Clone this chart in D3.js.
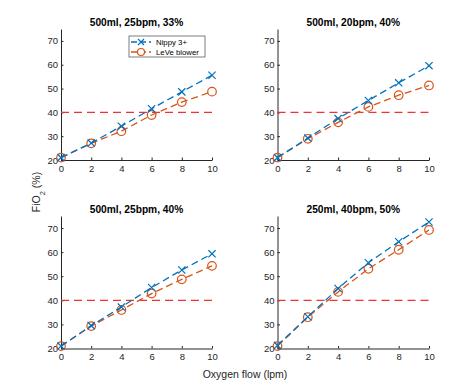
<!DOCTYPE html>
<html>
<head>
<meta charset="utf-8">
<script src="https://cdn.jsdelivr.net/npm/d3@7"></script>
<style>
  body { margin: 0; background: #fff; }
  svg { font-family: "Liberation Sans", Arial, sans-serif; }
  .axis path, .axis line { stroke: #262626; }
  .axis text { fill: #262626; font-size: 9.5px; }
</style>
</head>
<body>
<div class="chart"></div>
<script>
// data
const flows = [0, 2, 4, 6, 8, 10];
const titles = ["500ml, 25bpm, 33%", "500ml, 20bpm, 40%", "500ml, 25bpm, 40%", "250ml, 40bpm, 50%"];
const seriesNames = ["Nippy 3+", "LeVe blower"];
const nippy = [
  [21, 27.1, 34.2, 41.5, 48.6, 55.6],
  [21, 29.2, 37.4, 45, 52.4, 59.6],
  [21, 29.5, 37.2, 45.3, 52.6, 59.3],
  [21.3, 33.2, 44.9, 55.6, 64.3, 72.5]
];
const leve = [
  [21, 27, 32.1, 38.9, 44.3, 48.7],
  [21, 28.9, 35.8, 42.3, 47.2, 51.3],
  [21, 29.3, 36, 42.8, 48.7, 54.3],
  [21, 33, 43.5, 53.1, 61, 69.2]
];
const threshold = 40;
const yTicks = [20, 30, 40, 50, 60, 70];
const xTicks = [0, 2, 4, 6, 8, 10];

const W = 474, H = 392;
const blue = "#0072BD", orange = "#D95319", red = "#EE3333";

const svg = d3.select('.chart').append('svg')
  .attr('width', W).attr('height', H);

// panel positions
const panels = [
  { x0: 61, x1: 212, y0: 160, y1: 29 },
  { x0: 277.5, x1: 429, y0: 160, y1: 29 },
  { x0: 61, x1: 212, y0: 348.5, y1: 216 },
  { x0: 277.5, x1: 429, y0: 348.5, y1: 216 }
];

panels.forEach((p, k) => {
  const xScale = d3.scaleLinear().domain([0, 10]).range([p.x0, p.x1]);
  const yScale = d3.scaleLinear().domain([20, 75]).range([p.y0, p.y1]);
  const g = svg.append('g');

  // axes (MATLAB style, ticks inward)
  g.append('g')
    .attr('class', 'x axis')
    .attr('transform', `translate(0, ${p.y0})`)
    .call(d3.axisBottom(xScale).tickValues(xTicks).tickSizeInner(-2.5).tickSizeOuter(0).tickPadding(5));
  g.append('g')
    .attr('class', 'y axis')
    .attr('transform', `translate(${p.x0}, 0)`)
    .call(d3.axisLeft(yScale).tickValues(yTicks).tickSizeInner(-2.5).tickSizeOuter(0).tickPadding(3));

  // threshold line
  g.append('line')
    .attr('x1', xScale(0)).attr('x2', xScale(10))
    .attr('y1', yScale(threshold)).attr('y2', yScale(threshold))
    .attr('stroke', red).attr('stroke-width', 1.3)
    .attr('stroke-dasharray', '8,5');

  const line = d3.line()
    .x((d, i) => xScale(flows[i]))
    .y(d => yScale(d));

  // LeVe blower
  g.append('path')
    .datum(leve[k])
    .attr('d', line)
    .attr('fill', 'none').attr('stroke', orange).attr('stroke-width', 1.3)
    .attr('stroke-dasharray', '7,4');
  g.selectAll('circle.leve')
    .data(leve[k])
    .enter().append('circle')
    .attr('class', 'leve')
    .attr('cx', (d, i) => xScale(flows[i]))
    .attr('cy', d => yScale(d))
    .attr('r', 4.3)
    .attr('fill', 'none').attr('stroke', orange).attr('stroke-width', 1.2);

  // Nippy 3+
  g.append('path')
    .datum(nippy[k])
    .attr('d', line)
    .attr('fill', 'none').attr('stroke', blue).attr('stroke-width', 1.3)
    .attr('stroke-dasharray', '7,4');
  const s = 3.6;
  g.selectAll('path.nippy')
    .data(nippy[k])
    .enter().append('path')
    .attr('class', 'nippy')
    .attr('transform', (d, i) => `translate(${xScale(flows[i])},${yScale(d)})`)
    .attr('d', `M${-s},${-s}L${s},${s}M${-s},${s}L${s},${-s}`)
    .attr('stroke', blue).attr('stroke-width', 1.2);

  // title
  g.append('text')
    .attr('x', (p.x0 + p.x1) / 2)
    .attr('y', p.y1 - 3)
    .attr('text-anchor', 'middle')
    .attr('font-size', 10.2)
    .attr('font-weight', 'bold')
    .attr('fill', '#000')
    .text(titles[k]);
});

// legend
const lg = svg.append('g').attr('transform', 'translate(129, 36)');
lg.append('rect')
  .attr('width', 76).attr('height', 21)
  .attr('fill', '#fff').attr('stroke', '#262626').attr('stroke-width', 0.6);
[blue, orange].forEach((c, i) => {
  const yy = 6 + i * 10;
  lg.append('line')
    .attr('x1', 2).attr('x2', 22).attr('y1', yy).attr('y2', yy)
    .attr('stroke', c).attr('stroke-width', 1.3).attr('stroke-dasharray', '6,3');
  if (i === 0) {
    lg.append('path')
      .attr('d', `M9,${yy - 3}L15,${yy + 3}M9,${yy + 3}L15,${yy - 3}`)
      .attr('stroke', c).attr('stroke-width', 1.2);
  } else {
    lg.append('circle').attr('cx', 12).attr('cy', yy).attr('r', 3.5)
      .attr('fill', '#fff').attr('stroke', c).attr('stroke-width', 1.2);
  }
  lg.append('text')
    .attr('x', 27).attr('y', yy + 3)
    .attr('font-size', 7.8).attr('fill', '#000')
    .text(seriesNames[i]);
});

// axis labels
svg.append('text')
  .attr('transform', 'translate(40, 192) rotate(-90)')
  .attr('text-anchor', 'middle')
  .attr('font-size', 10.5).attr('fill', '#262626')
  .html('FiO<tspan baseline-shift="sub" font-size="7.5">2</tspan> (%)');
svg.append('text')
  .attr('x', 245).attr('y', 378)
  .attr('text-anchor', 'middle')
  .attr('font-size', 10.5).attr('fill', '#262626')
  .text('Oxygen flow (lpm)');
</script>
</body>
</html>
